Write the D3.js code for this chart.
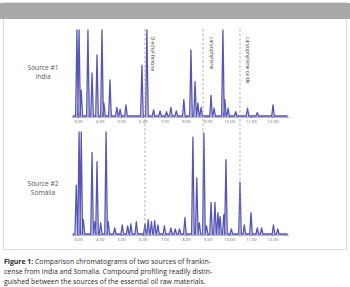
<!DOCTYPE html>
<html>
<head>
<meta charset="utf-8">
<script src="https://d3js.org/d3.v7.min.js"></script>
<style>
  body { margin: 0; background: #fff; }
  svg text { font-family: "Open Sans", "Noto Sans", sans-serif; }
</style>
</head>
<body>
<div id="chart"></div>
<script>
// retention time (min) and relative height of the peaks
var indiaTimes   = [2.95, 3.05, 3.15, 3.46, 3.65, 3.88, 4.11, 4.2, 4.48, 4.8, 4.95, 5.22, 5.96, 6.19, 6.5, 6.8, 7.1, 7.3, 7.55, 7.9, 8.23, 8.42, 8.55, 8.7, 9.16, 9.3, 9.71, 9.8, 9.95, 10.3, 10.85, 11.3, 12.03];
var indiaHeights = [100, 100, 30, 100, 50, 71, 100, 15, 42, 10, 8, 13, 59, 100, 7, 6, 5, 10, 6, 19, 77, 40, 15, 10, 24, 9, 100, 19, 9, 5, 9, 4, 13];

var somaliaTimes   = [2.92, 3.05, 3.15, 3.25, 3.65, 3.78, 3.88, 4.05, 4.3, 4.4, 4.7, 5.05, 5.3, 5.45, 5.7, 6.1, 6.25, 6.4, 6.55, 6.7, 7.0, 7.3, 7.5, 7.7, 7.95, 8.32, 8.5, 8.62, 8.83, 8.95, 9.16, 9.34, 9.48, 9.58, 9.75, 9.85, 10.1, 10.5, 10.7, 11.01, 11.3, 11.5, 12.05, 12.25];
var somaliaHeights = [48, 100, 100, 14, 80, 12, 71, 11, 100, 12, 6, 9, 8, 10, 12, 10, 14, 12, 13, 9, 8, 6, 5, 5, 16, 95, 55, 11, 99, 8, 31, 31, 21, 17, 19, 73, 5, 51, 9, 21, 6, 6, 9, 5];

var tickValues = [3, 4, 5, 6, 7, 8, 9, 10, 11, 12];
var markerTimes  = [6.1, 8.79, 10.5];
var markerLabels = ["\u03b2-ethyl-fenone", "caryophyllene", "caryophyllene oxide"];

var sourceLabels = [["Source #1", "India"], ["Source #2", "Somalia"]];
var captionLines = [
  ["Figure 1:", " Comparison chromatograms of two sources of frankin-"],
  ["", "cense from India and Somalia. Compound profiling readily distin-"],
  ["", "guished between the sources of the essential oil raw materials."]
];

var width = 350, height = 287;
var svg = d3.select("#chart").append("svg")
  .attr("width", width).attr("height", height);

// frame and header bar
svg.append("rect").attr("x", 3.5).attr("y", 2.5).attr("width", 343).attr("height", 247)
  .attr("fill", "#fff").attr("stroke", "#dcdcdc");
svg.append("rect").attr("x", 0).attr("y", 3).attr("width", 350).attr("height", 16)
  .attr("fill", "#a9a9a9");

var x = d3.scaleLinear().domain([2.75, 12.7]).range([72.6, 287.5]);
var panels = [
  { times: indiaTimes, heights: indiaHeights, y: d3.scaleLinear().domain([0, 100]).range([116, 30]), label: sourceLabels[0], ly: 70 },
  { times: somaliaTimes, heights: somaliaHeights, y: d3.scaleLinear().domain([0, 100]).range([234, 132]), label: sourceLabels[1], ly: 186 }
];

var halfWidth = 0.06;

panels.forEach(function(p) {
  var pts = [[x.domain()[0], 0]];
  p.times.forEach(function(t, i) {
    pts.push([t - halfWidth, 0], [t, p.heights[i]], [t + halfWidth, 0]);
  });
  pts.push([x.domain()[1], 0]);

  var area = d3.area().x(function(d) { return x(d[0]); })
    .y0(p.y(0)).y1(function(d) { return p.y(d[1]); });
  var line = d3.line().x(function(d) { return x(d[0]); })
    .y(function(d) { return p.y(d[1]); });

  svg.append("path").attr("d", area(pts)).attr("fill", "#d0d0ee").attr("opacity", 0.7);
  svg.append("path").attr("d", line(pts)).attr("fill", "none")
    .attr("stroke", "#5656b4").attr("stroke-width", 1.3).attr("stroke-linejoin", "round");

  var axis = svg.append("g").attr("transform", "translate(0," + (p.y(0) + 0.5) + ")")
    .call(d3.axisBottom(x).tickValues(tickValues).tickSize(1.5).tickPadding(1.5)
      .tickFormat(d3.format(".2f")));
  axis.select(".domain").attr("stroke", "#6a6ab8");
  axis.selectAll(".tick line").attr("stroke", "#777");
  axis.selectAll("text").attr("font-size", 4.3).attr("fill", "#666");

  svg.append("text").attr("x", 43).attr("y", p.ly).attr("text-anchor", "middle")
    .attr("font-size", 6.6).attr("fill", "#555")
    .selectAll("tspan").data(p.label).enter().append("tspan")
    .attr("x", 43).attr("dy", function(d, i) { return i ? 9 : 0; })
    .text(function(d) { return d; });
});

// dashed marker lines across both chromatograms
markerTimes.forEach(function(t, i) {
  svg.append("line").attr("x1", x(t)).attr("x2", x(t)).attr("y1", 29).attr("y2", 237)
    .attr("stroke", "#9a9a9a").attr("stroke-width", 0.8).attr("stroke-dasharray", "2.5,2");
  svg.append("text")
    .attr("transform", "translate(" + (x(t) + 6.5) + ",37) rotate(90)")
    .attr("font-size", 5).attr("fill", "#444")
    .text(markerLabels[i]);
});

// caption
var cap = svg.append("g");
captionLines.forEach(function(l, i) {
  var t = cap.append("text").attr("x", 4).attr("y", 264 + i * 9.8)
    .attr("font-size", 6.9).attr("fill", "#2a2a2a");
  if (l[0]) t.append("tspan").attr("font-weight", "bold").text(l[0]);
  t.append("tspan").text(l[1]);
});
</script>
</body>
</html>
